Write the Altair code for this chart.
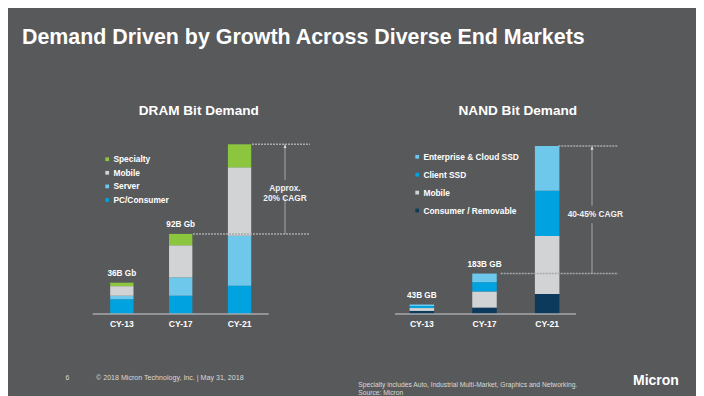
import altair as alt
import pandas as pd

FONT = "Liberation Sans"
BG = "#58595b"
LINE = "#a7a9ac"

# ---------------- data ----------------
slide_title = "Demand Driven by Growth Across Diverse End Markets"
years = ["CY-13", "CY-17", "CY-21"]

dram_title = "DRAM Bit Demand"
dram_stack = ["PC/Consumer", "Server", "Mobile", "Specialty"]  # bottom -> top
dram_pc = [17, 21, 32.5]
dram_server = [4, 21, 57.5]
dram_mobile = [11, 37, 78.5]
dram_specialty = [4, 13, 26.5]
dram_colors = ["#00a3e0", "#6dc8ec", "#d1d3d4", "#8cc63f"]
dram_total_labels = ["36B Gb", "92B Gb", ""]
dram_cagr = ["Approx.", "20% CAGR"]

nand_title = "NAND Bit Demand"
nand_stack = ["Consumer / Removable", "Mobile", "Client SSD", "Enterprise & Cloud SSD"]
nand_consumer = [14, 29, 91]
nand_mobile = [13, 73, 262]
nand_client = [9, 42, 204]
nand_enterprise = [7, 39, 203]
nand_colors = ["#0b3a5d", "#d1d3d4", "#00a3e0", "#6dc8ec"]
nand_total_labels = ["43B GB", "183B GB", ""]
nand_cagr = ["40-45% CAGR"]

footer_page = "6"
footer_copy = "\u00a9 2018 Micron Technology, Inc.  |  May 31, 2018"
footnote_lines = ["Specialty includes Auto, Industrial Multi-Market, Graphics and Networking.",
                  "Source: Micron"]
logo_text = "Micron"


def text_layer(txt, x, y, size, weight="normal", align="left", baseline="middle",
               color="white", line_height=None):
    kw = dict(font=FONT, fontSize=size, fontWeight=weight, align=align,
              baseline=baseline, color=color)
    if line_height is not None:
        kw["lineBreak"] = "\n"
        kw["lineHeight"] = line_height
    return alt.Chart(pd.DataFrame({"t": [txt]})).mark_text(**kw).encode(
        x=alt.value(x), y=alt.value(y), text="t:N")


def panel(title, stack, series, colors, total_labels, cagr_lines, L):
    rows = []
    for rank, (seg, vals) in enumerate(zip(stack, series)):
        for yr, v in zip(years, vals):
            rows.append({"year": yr, "segment": seg, "value": v, "rank": rank})
    df = pd.DataFrame(rows)
    totals = [sum(s[i] for s in series) for i in range(len(years))]
    tdf = pd.DataFrame({"year": years, "total": totals, "label": total_labels})

    xs = alt.Scale(domain=years, range=L["x_range"], paddingInner=L["pi"],
                   paddingOuter=L["po"], align=L["align"])
    ys = alt.Scale(domain=[0, max(totals)], range=L["y_range"], nice=False, zero=True)
    xe = alt.X("year:N", scale=xs, sort=years, axis=None)
    ye = alt.Y("total:Q", scale=ys, axis=None)

    bars = alt.Chart(df).mark_bar().encode(
        x=xe,
        y=alt.Y("value:Q", scale=ys, stack="zero", axis=None),
        color=alt.Color("segment:N",
                        scale=alt.Scale(domain=list(reversed(stack)),
                                        range=list(reversed(colors))),
                        legend=alt.Legend(orient="none", legendX=L["legX"], legendY=L["legY"],
                                          title=None, symbolType="square", symbolSize=14,
                                          symbolStrokeWidth=0, labelColor="white",
                                          labelFont=FONT, labelFontWeight="bold",
                                          labelFontSize=8.4, rowPadding=L["rowPad"],
                                          labelOffset=2, padding=0, direction="vertical")),
        order=alt.Order("rank:Q", sort="ascending"),
    )

    # category axis: baseline at value 0 and the year labels under each bar
    baseline = alt.Chart(tdf).transform_filter(alt.datum.year == years[0]).mark_rule(
        color=LINE, strokeWidth=1.5).encode(
        x=alt.value(L["x_range"][0]), x2=alt.value(L["x_range"][1]),
        y=alt.Y("zero:Q", scale=ys, axis=None)).transform_calculate(zero="0")
    ticks = alt.Chart(tdf).mark_text(font=FONT, fontWeight="bold", fontSize=8.6,
                                     color="white", baseline="middle").encode(
        x=xe, y=alt.value(L["label_y"]), text="year:N")

    labels = alt.Chart(tdf).transform_filter("datum.label != ''").mark_text(
        font=FONT, fontWeight="bold", fontSize=8.2, color="white", dy=-8.7,
        baseline="middle").encode(x=xe, y=ye, text="label:N")

    last = alt.datum.year == years[2]
    mid = alt.datum.year == years[1]
    dash_kw = dict(color=LINE, strokeWidth=1.5, strokeDash=[2, 1])
    dash_top = alt.Chart(tdf).transform_filter(last).mark_rule(**dash_kw).encode(
        x=alt.value(L["top_x"][0]), x2=alt.value(L["top_x"][1]), y=ye)
    dash_bot = alt.Chart(tdf).transform_filter(mid).mark_rule(**dash_kw).encode(
        x=alt.value(L["bot_x"][0]), x2=alt.value(L["bot_x"][1]), y=ye)
    v_top = alt.Chart(tdf).transform_filter(last).mark_rule(color=LINE, strokeWidth=1).encode(
        x=alt.value(L["vx"]), y=ye, y2=alt.value(L["gap"][0]))
    v_bot = alt.Chart(tdf).transform_filter(mid).mark_rule(color=LINE, strokeWidth=1).encode(
        x=alt.value(L["vx"]), y=ye, y2=alt.value(L["gap"][1]))
    arrow = alt.Chart(tdf).transform_filter(last).mark_point(
        shape="M0,0L-1.2,3L1.2,3Z", filled=True, size=6.25, color="#d9d9d9",
        opacity=1).encode(x=alt.value(L["vx"]), y=ye)

    cagr = text_layer("\n".join(cagr_lines), L["cagr_xy"][0], L["cagr_xy"][1], 8.3,
                      weight="bold", align="center", color="#f2f2f2", line_height=10)
    ttl = text_layer(title, L["title_xy"][0], L["title_xy"][1], 13.6, weight="bold",
                     align="center")

    return alt.layer(bars, baseline, ticks, labels, dash_top, dash_bot, v_top, v_bot,
                     arrow, cagr, ttl)


dram_L = dict(x_range=[84.7, 260.7], pi=0.604, po=0.297, align=0.5,
              y_range=[306, 136.3], top_x=[244, 302], bot_x=[185, 302], vx=277,
              gap=[172, 189.7], cagr_xy=[277, 181.3], legX=95, legY=147, rowPad=4.6,
              title_xy=[190.8, 102.7], label_y=316.3)
nand_L = dict(x_range=[387, 568], pi=0.609, po=0.249, align=0.468,
              y_range=[306, 138], top_x=[550.3, 610], bot_x=[492.7, 610], vx=584,
              gap=[197.7, 215.3], cagr_xy=[587.3, 207], legX=405, legY=144.6, rowPad=8.9,
              title_xy=[509.8, 102.7], label_y=316.3)

dram = panel(dram_title, dram_stack, [dram_pc, dram_server, dram_mobile, dram_specialty],
             dram_colors, dram_total_labels, dram_cagr, dram_L)
nand = panel(nand_title, nand_stack, [nand_consumer, nand_mobile, nand_client, nand_enterprise],
             nand_colors, nand_total_labels, nand_cagr, nand_L)

header = text_layer(slide_title, 14, 36.3, 21.4, weight="bold", baseline="alphabetic")
f_page = text_layer(footer_page, 57.5, 370.3, 6.8, color="#d9d9d9")
f_copy = text_layer(footer_copy, 88, 370.3, 7.1, color="#d9d9d9")
f_note = text_layer("\n".join(footnote_lines), 350.3, 377.2, 6.7, color="#d9d9d9",
                    line_height=8.3)
f_logo = text_layer(logo_text, 625, 373, 14, weight="bold")

chart = alt.layer(header, f_page, f_copy, f_note, f_logo, dram, nand).resolve_scale(
    x="independent", y="independent", color="independent"
).properties(
    width=688, height=306, background=BG,
    padding={"left": 0, "top": 0, "right": 0, "bottom": 82},
    autosize=alt.AutoSizeParams(type="none"),
).configure_view(strokeWidth=0)

chart.save("out.html", embed_options={"renderer": "svg", "actions": False})
